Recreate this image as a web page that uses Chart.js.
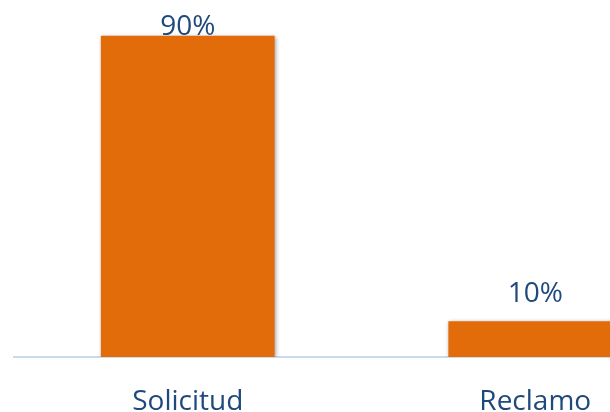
<!DOCTYPE html>
<html>
<head>
<meta charset="utf-8">
<script src="https://cdn.jsdelivr.net/npm/chart.js@4"></script>
<style>
  html, body { margin: 0; padding: 0; background: #fff; overflow: hidden; }
  #wrap { width: 709px; height: 412px; }
</style>
</head>
<body>
<div id="wrap"><canvas id="tipoChart"></canvas></div>
<script>
const categories = ['Solicitud', 'Reclamo'];
const shares = [90, 10]; // percent of cases
const barColor = '#E36C0A';
const textColor = '#1F497D';
const fontFamily = '"Open Sans", Lato, sans-serif';

// soft drop shadow behind the bars
const barShadow = {
    id: 'barShadow',
    beforeDatasetsDraw(chart) {
        const ctx = chart.ctx;
        ctx.save();
        ctx.shadowColor = 'rgba(0, 0, 0, 0.35)';
        ctx.shadowBlur = 4;
        ctx.shadowOffsetX = 1;
        ctx.shadowOffsetY = 1;
    },
    afterDatasetsDraw(chart) {
        chart.ctx.restore();
    }
};

// percentage label above each bar, kept inside the canvas
const valueLabels = {
    id: 'valueLabels',
    afterDatasetsDraw(chart) {
        const ctx = chart.ctx;
        const meta = chart.getDatasetMeta(0);
        ctx.save();
        ctx.font = '28px ' + fontFamily;
        ctx.fillStyle = textColor;
        ctx.textAlign = 'center';
        ctx.textBaseline = 'alphabetic';
        meta.data.forEach((bar, i) => {
            const y = Math.max(bar.y - 19, 35);
            ctx.fillText(shares[i] + '%', bar.x, y);
        });
        ctx.restore();
    }
};

new Chart(document.getElementById('tipoChart'), {
    type: 'bar',
    data: {
        labels: categories,
        datasets: [{
            data: shares,
            backgroundColor: barColor,
            borderWidth: 0,
            categoryPercentage: 1,
            barPercentage: 0.5
        }]
    },
    options: {
        responsive: true,
        maintainAspectRatio: false,
        animation: false,
        layout: { padding: { left: 14, right: 0, top: 0, bottom: 0 } },
        plugins: { legend: { display: false }, tooltip: { enabled: false } },
        scales: {
            x: {
                grid: { display: false, drawTicks: false },
                border: { display: true, color: '#C9D9EE', width: 2 },
                ticks: {
                    color: textColor,
                    padding: 28,
                    font: { family: fontFamily, size: 28 }
                },
                afterFit: (scale) => { scale.height = 55; }
            },
            y: {
                display: false,
                min: 0,
                max: 100
            }
        }
    },
    plugins: [barShadow, valueLabels]
});
</script>
</body>
</html>
